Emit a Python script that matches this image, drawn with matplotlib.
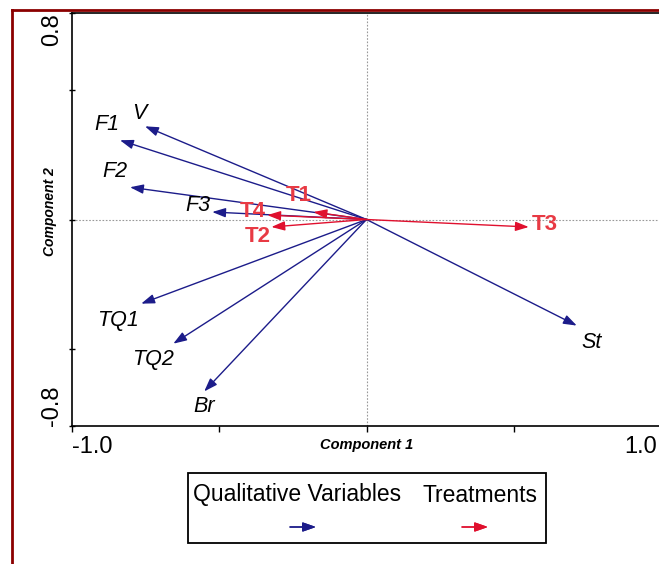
import matplotlib
matplotlib.use("Agg")
import matplotlib.pyplot as plt
import matplotlib.transforms as mtransforms
from matplotlib.patches import Rectangle
from matplotlib.lines import Line2D

plt.rcParams["font.family"] = ["Liberation Sans", "DejaVu Sans"]

NAVY = "#1c1c8a"
RED = "#e0102e"
RED_TXT = "#e83a44"

# qualitative variables: loadings on component 1 / 2
var_names = ["V", "F1", "F2", "F3", "TQ1", "TQ2", "Br", "St"]
var_x = [-0.752, -0.837, -0.803, -0.524, -0.765, -0.656, -0.551, 0.714]
var_y = [0.361, 0.307, 0.125, 0.029, -0.326, -0.481, -0.666, -0.411]
# label offsets (data units) relative to arrow tips
var_lx = [-0.02, -0.045, -0.05, -0.05, -0.08, -0.07, 0.0, 0.05]
var_ly = [0.05, 0.06, 0.06, 0.025, -0.065, -0.06, -0.06, -0.065]

# treatments
trt_names = ["T1", "T4", "T2", "T3"]
trt_x = [-0.180, -0.337, -0.323, 0.551]
trt_y = [0.029, 0.017, -0.029, -0.029]
trt_lx = [-0.05, -0.05, -0.045, 0.055]
trt_ly = [0.063, 0.015, -0.035, 0.01]

fig = plt.figure(figsize=(6.59, 5.64), dpi=100)
ax = fig.add_axes([72 / 659, 138 / 564, 589 / 659, 413 / 564])
ax.set_xlim(-1.0, 1.0)
ax.set_ylim(-0.8, 0.8)

ax.axhline(0, color="#999999", lw=0.8, ls=(0, (1.5, 1.5)), zorder=0)
ax.axvline(0, color="#999999", lw=0.8, ls=(0, (1.5, 1.5)), zorder=0)

HEAD = "-|>,head_length=0.8,head_width=0.28"


def arrow(x, y, color):
    ax.annotate("", xy=(x, y), xytext=(0, 0),
                arrowprops=dict(arrowstyle=HEAD, color=color, lw=1.0,
                                shrinkA=0, shrinkB=0))


for n, x, y, lx, ly in zip(var_names, var_x, var_y, var_lx, var_ly):
    arrow(x, y, NAVY)
    ax.text(x + lx, y + ly, n, fontsize=15.5, style="italic", color="black",
            ha="center", va="center")

for n, x, y, lx, ly in zip(trt_names, trt_x, trt_y, trt_lx, trt_ly):
    arrow(x, y, RED)
    ax.text(x + lx, y + ly, n, fontsize=16, fontweight="bold", color=RED_TXT,
            ha="center", va="center")

ax.set_xticks([-1.0, -0.5, 0, 0.5, 1.0])
ax.set_xticklabels(["-1.0", "", "", "", "1.0"])
ax.set_yticks([-0.8, -0.5, 0, 0.5, 0.8])
ax.set_yticklabels(["-0.8", "", "", "", "0.8"], rotation=90, va="center")
ax.tick_params(axis="both", direction="inout", length=5, width=1, labelsize=17)
ax.tick_params(axis="x", direction="out", length=4, pad=3)
ax.tick_params(axis="y", pad=4)
xl = ax.get_xticklabels()
xl[0].set_ha("left")
xl[-1].set_ha("right")
xl[-1].set_transform(xl[-1].get_transform() +
                     mtransforms.ScaledTranslation(-4 / 100, 0, fig.dpi_scale_trans))
yl = ax.get_yticklabels()
yl[0].set_va("bottom")
yl[-1].set_va("top")
for sp in ax.spines.values():
    sp.set_linewidth(1.2)

ax.set_xlabel("Component 1", fontsize=10.5, fontweight="bold", style="italic", labelpad=-14)
ax.set_ylabel("Component 2", fontsize=10, fontweight="bold", style="italic",
              va="center")
ax.yaxis.set_label_coords(-0.037, 0.52)

# dark red page border (left and top)
fig.add_artist(Line2D([12 / 659, 12 / 659], [0, 1 - 10 / 564], color="#8b0000", lw=2,
                      transform=fig.transFigure))
fig.add_artist(Line2D([12 / 659, 1], [1 - 10 / 564, 1 - 10 / 564], color="#8b0000", lw=2,
                      transform=fig.transFigure))

# legend box
fig.add_artist(Rectangle((188 / 659, 21 / 564), 358 / 659, 70 / 564, fill=False,
                         ec="black", lw=1.3, transform=fig.transFigure))
fig.text(193 / 659, 1 - 495 / 564, "Qualitative Variables", fontsize=16.5, va="center")
fig.text(423 / 659, 1 - 495 / 564, "Treatments", fontsize=16.5, va="center")
for x0, c in [(290, NAVY), (462, RED)]:
    fig.add_artist(plt.annotate("", xy=((x0 + 26) / 659, 1 - 527 / 564),
                                xytext=(x0 / 659, 1 - 527 / 564),
                                xycoords="figure fraction", textcoords="figure fraction",
                                arrowprops=dict(arrowstyle=HEAD, color=c, lw=1.0,
                                                shrinkA=0, shrinkB=0)))

fig.savefig("out.png", dpi=100, facecolor="white")
